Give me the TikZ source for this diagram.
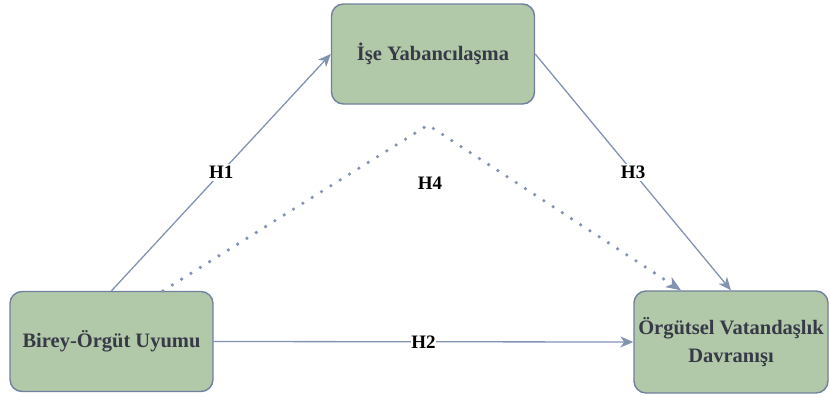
\documentclass[tikz,border=0pt]{standalone}
\usepackage{fontspec}
\setmainfont{Liberation Serif}
\usetikzlibrary{arrows.meta,calc}
\definecolor{boxfill}{RGB}{177,201,169}
\definecolor{boxdraw}{RGB}{112,128,158}
\definecolor{linecol}{RGB}{130,147,178}
\definecolor{txtcol}{RGB}{55,58,70}
\tikzset{
  varbox/.style={draw=boxdraw, fill=boxfill, line width=1.4pt, rounded corners=12pt,
    minimum width=203pt, minimum height=100pt, align=center, inner sep=0pt,
    font=\fontsize{20.5}{28}\selectfont\bfseries, text=txtcol},
  conn/.style={draw=linecol, line width=1.3pt, -{Stealth[length=13pt,width=11pt,inset=4pt]}},
  dotconn/.style={draw=linecol, line width=3.6pt, line cap=round, dash pattern=on 0pt off 11pt,
    -{Stealth[length=15pt,width=12pt,inset=4pt,line width=0pt]}},
  hlab/.style={fill=white, inner sep=2pt, font=\fontsize{19}{21}\selectfont\bfseries, text=black}
}
\begin{document}
\begin{tikzpicture}[x=1pt,y=-1pt]
\useasboundingbox (0,0) rectangle (830,399);
\node[varbox] (tb) at (433,54) {İşe Yabancılaşma};
\node[varbox] (lb) at (111.5,341.5) {Birey-Örgüt Uyumu};
\node[varbox, minimum width=194pt, minimum height=102pt] (rb) at (731,342) {Örgütsel Vatandaşlık\\Davranışı};
\coordinate (peak) at (428,125);
\coordinate (h4s) at ([xshift=51.5pt]lb.north);
\coordinate (h4e) at ([xshift=-50pt]rb.north);
\draw[conn] (lb.north) -- node[hlab] {H1} (tb.west);
\draw[conn] (tb.east) -- node[hlab] {H3} (rb.north);
\draw[conn] (lb.east) -- node[hlab, inner sep=0.5pt] {H2} (rb.west);
\draw[dotconn] (h4s) -- (peak) -- (h4e);
\node[hlab, fill=none] (h4) at (430,183) {H4};
\end{tikzpicture}
\end{document}
